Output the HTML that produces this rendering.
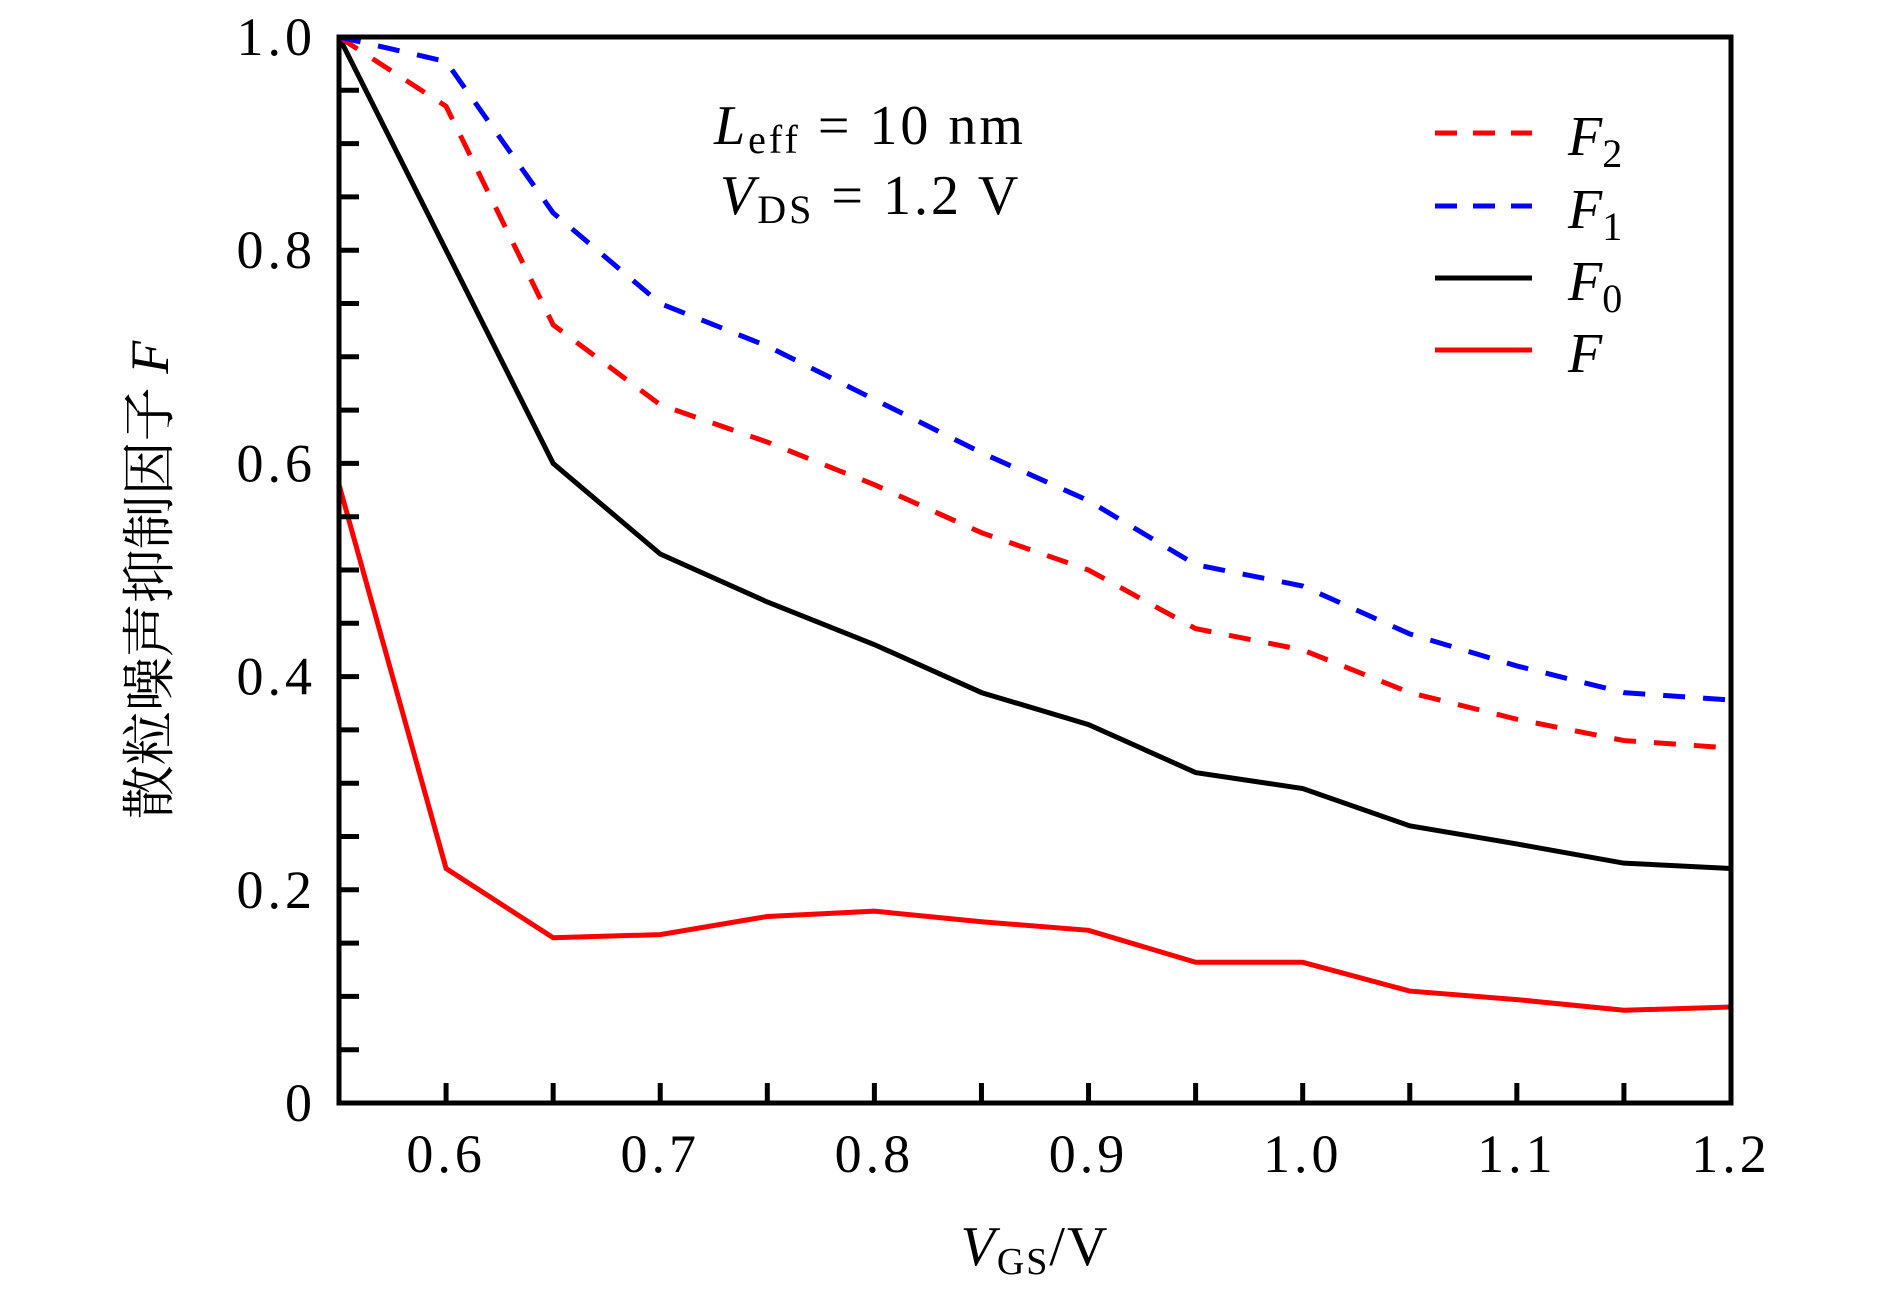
<!DOCTYPE html>
<html><head><meta charset="utf-8"><style>
html,body{margin:0;padding:0;background:#fff}
svg{display:block}
text{font-family:"Liberation Serif","Noto Serif CJK SC",serif;fill:#000}
</style></head><body>
<svg id="chart" width="1890" height="1300" viewBox="0 0 1890 1300" xmlns="http://www.w3.org/2000/svg">
<g id="marks"></g>
<rect x="339" y="37" width="1392" height="1066" fill="none" stroke="#000" stroke-width="5"/>
<g id="ticks"></g>
<g font-size="56" letter-spacing="3">
<text x="714" y="144"><tspan font-style="italic">L</tspan><tspan font-size="40" dy="9">eff</tspan><tspan dy="-9"> =  10  nm</tspan></text>
<text x="720" y="214"><tspan font-style="italic">V</tspan><tspan font-size="40" dy="9">DS</tspan><tspan dy="-9"> =  1.2  V</tspan></text>
</g>
<g id="legend"></g>
<text transform="translate(168,580) rotate(-90)" text-anchor="middle" font-size="54">散粒噪声抑制因子 <tspan font-style="italic">F</tspan></text>
<text x="1035" y="1265" text-anchor="middle" font-size="56" letter-spacing="2"><tspan font-style="italic">V</tspan><tspan font-size="38" dy="9">GS</tspan><tspan dy="-9">/V</tspan></text>
</svg>
<script>
const xs = [0.55,0.60,0.65,0.70,0.75,0.80,0.85,0.90,0.95,1.00,1.05,1.10,1.15,1.20];
const f2 = [1.0,0.935,0.73,0.655,0.62,0.58,0.535,0.50,0.445,0.425,0.385,0.36,0.34,0.333];
const f1 = [1.0,0.977,0.835,0.75,0.71,0.66,0.61,0.565,0.505,0.485,0.44,0.41,0.385,0.378];
const f0 = [1.0,0.80,0.60,0.515,0.47,0.43,0.385,0.355,0.31,0.295,0.26,0.243,0.225,0.22];
const fAll = [0.58,0.22,0.155,0.158,0.175,0.18,0.17,0.162,0.132,0.132,0.105,0.097,0.087,0.09];
const xTickLabels = ["0.6","0.7","0.8","0.9","1.0","1.1","1.2"];
const xTickValues = [0.6,0.7,0.8,0.9,1.0,1.1,1.2];
const yTickLabels = ["0","0.2","0.4","0.6","0.8","1.0"];
const yTickValues = [0,0.2,0.4,0.6,0.8,1.0];
const NS="http://www.w3.org/2000/svg";
const X=v=>339+(v-0.55)/(1.2-0.55)*1392;
const Y=v=>1103-v*1066;
const marks=document.getElementById('marks');
const series=[
 {name:'series-f0',d:f0,c:'#000',dash:null},
 {name:'series-f2',d:f2,c:'#f00',dash:'22 18'},
 {name:'series-f1',d:f1,c:'#00f',dash:'22 18'},
 {name:'series-f',d:fAll,c:'#f00',dash:null}];
series.forEach(s=>{
 const p=document.createElementNS(NS,'polyline');
 
 
 p.setAttribute('points',xs.map((x,i)=>X(x)+','+Y(s.d[i])).join(' '));
 p.setAttribute('fill','none');p.setAttribute('stroke',s.c);p.setAttribute('stroke-width','5');
 if(s.dash)p.setAttribute('stroke-dasharray',s.dash);
 marks.appendChild(p);
});
const t=document.getElementById('ticks');
for(let k=1;k<13;k++){const v=0.55+k*0.05;
 const l=document.createElementNS(NS,'line');
 
 
 l.setAttribute('x1',X(v));l.setAttribute('x2',X(v));l.setAttribute('y1',1103);l.setAttribute('y2',1083);
 l.setAttribute('stroke','#000');l.setAttribute('stroke-width','5');t.appendChild(l);}
for(let k=1;k<20;k++){const v=k*0.05;
 const l=document.createElementNS(NS,'line');
 
 
 l.setAttribute('x1',339);l.setAttribute('x2',359);l.setAttribute('y1',Y(v));l.setAttribute('y2',Y(v));
 l.setAttribute('stroke','#000');l.setAttribute('stroke-width','5');t.appendChild(l);}
xTickValues.forEach((v,i)=>{const e=document.createElementNS(NS,'text');
 
 
 e.setAttribute('x',X(v));e.setAttribute('y',1172);e.setAttribute('text-anchor','middle');e.setAttribute('font-size','54');e.setAttribute('letter-spacing','4');
 e.textContent=xTickLabels[i];t.appendChild(e);});
yTickValues.forEach((v,i)=>{const e=document.createElementNS(NS,'text');
 
 
 e.setAttribute('x',316);e.setAttribute('y',Y(v)+18);e.setAttribute('text-anchor','end');e.setAttribute('font-size','54');e.setAttribute('letter-spacing','4');
 e.textContent=yTickLabels[i];t.appendChild(e);});
const lg=document.getElementById('legend');
const entries=[{s:'2',c:'#f00',dash:'22 16',y:133},{s:'1',c:'#00f',dash:'22 16',y:206},{s:'0',c:'#000',dash:null,y:278},{s:'',c:'#f00',dash:null,y:350}];
entries.forEach(en=>{
 const l=document.createElementNS(NS,'line');
 
 
 l.setAttribute('x1',1435);l.setAttribute('x2',1532);l.setAttribute('y1',en.y);l.setAttribute('y2',en.y);
 l.setAttribute('stroke',en.c);l.setAttribute('stroke-width','5');if(en.dash)l.setAttribute('stroke-dasharray',en.dash);
 lg.appendChild(l);
 const e=document.createElementNS(NS,'text');
 
 
 e.setAttribute('x',1568);e.setAttribute('y',en.y+22);e.setAttribute('font-size','56');
 e.innerHTML='<tspan font-style="italic">F</tspan>'+(en.s?'<tspan font-size="40" dy="12">'+en.s+'</tspan>':'');
 lg.appendChild(e);
});
</script>
</body></html>
